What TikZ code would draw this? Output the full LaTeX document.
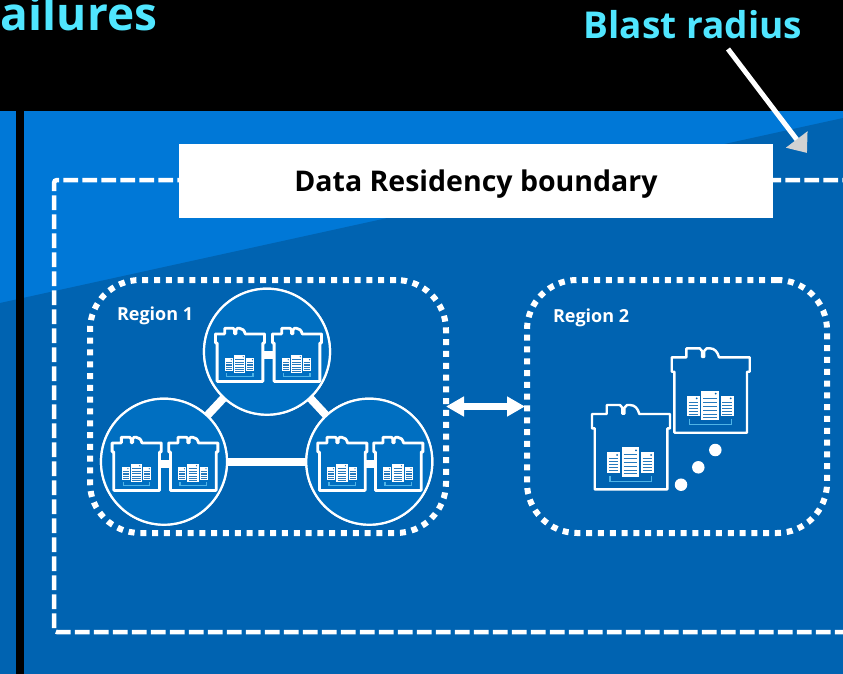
\documentclass[tikz,border=0pt]{standalone}
\usepackage{fontspec}
\setmainfont{Open Sans}
\usetikzlibrary{arrows.meta}
\definecolor{bgdark}{HTML}{0063B1}
\definecolor{bglight}{HTML}{0078D7}
\definecolor{sitefill}{HTML}{006FC1}
\definecolor{titlecyan}{HTML}{50E6FF}
\definecolor{headgray}{HTML}{D2D2D2}
\definecolor{rackline}{HTML}{4FB4E6}
\begin{document}
\begin{tikzpicture}
[x=1pt,y=-1pt,
every node/.style={inner sep=0pt,outer sep=0pt,align=center},
titletext/.style={text=titlecyan,font=\bfseries\fontsize{37}{40}\selectfont},
boundarybox/.style={draw=white,line width=4.5pt,dash pattern=on 14.7pt off 4.3pt,rounded corners=3pt,minimum width=806pt,minimum height=452pt},
labelbox/.style={fill=white,text=black,font=\bfseries\fontsize{28.5}{32}\selectfont,text height=25pt,text depth=5pt,minimum width=594pt,minimum height=74pt},
regionbox/.style={draw=white,line width=6pt,dash pattern=on 6pt off 5.8pt,rounded corners=50pt,minimum height=253pt},
regiontext/.style={text=white,font=\bfseries\fontsize{18}{22}\selectfont},
site/.style={circle,draw=white,line width=2.2pt,fill=sitefill,minimum size=126pt},
link/.style={draw=white,line width=8pt},
dot/.style={circle,fill=white,minimum size=12.5pt},
pics/dc/.style={code={
	\draw[white,line join=round] (-36.3,42.7) -- (-36.3,-18.3) -- (-39,-18.3) -- (-39,-32.7) -- (-24.3,-32.7) -- (-24.3,-41.7) -- (-11,-41.7) -- (-8.7,-39) -- (-8.7,-33) -- (-6.5,-33) -- (-6.5,-39) -- (-4,-41.7) -- (-1,-41.7) .. controls (4,-41.7) and (7,-38) .. (8.3,-32.7) -- (39,-32.7) -- (39,-18.3) -- (36.3,-18.3) -- (36.3,42.7) -- cycle;
	\fill[white] (-23.7,5.7) rectangle (-11,26);
	\fill[white] (-9.3,0.7) rectangle (8.3,30);
	\fill[white] (10,5.7) rectangle (23,26);
	\foreach \y in {12,15,18,21,24} {
		\draw[bgdark!85!white,line width=.9pt] (-22,\y) -- (-12.7,\y);
		\draw[bgdark!85!white,line width=.9pt] (11.7,\y) -- (21.3,\y);
	}
	\foreach \y in {8,12,16,20,24,27} {
		\draw[bgdark!85!white,line width=.9pt] (-7.3,\y) -- (6.3,\y);
	}
	\fill[bgdark] (-14,8.3) circle (1pt) (20,8.3) circle (1pt) (5,3.6) circle (1pt);
	\draw[rackline,line width=1.2pt] (-21,29.3) -- (-21,34.7) -- (20.7,34.7) -- (20.7,29.3);
	\coordinate (-w) at (-36.3,0);
	\coordinate (-e) at (36.3,0);
}},
smalldc/.style={scale=.63,line width=2.8pt},
largedc/.style={line width=2.4pt}]

\clip (0,0) rectangle (843,674);
\fill[black] (0,0) rectangle (843,674);
\fill[bglight] (0,111) rectangle (843,674);
\fill[bgdark] (0,303) -- (843,118) -- (843,674) -- (0,674) -- cycle;
\fill[black] (16,111) rectangle (24,674);

\node[titletext,font=\bfseries\fontsize{46}{50}\selectfont,anchor=base west] (failures) at (1,31) {ailures};
\node[titletext,anchor=base] (blast) at (693,39) {Blast radius};

\node[boundarybox] (boundary) at (457,406) {};
\node[labelbox] (residency) at (476,181) {Data Residency boundary};

\coordinate (blaststart) at (728,49);
\coordinate (blastend) at (807,153);
\draw[white,line width=5pt,-{Triangle[length=17pt,width=26pt,color=headgray]}] (blaststart) -- (blastend);

\node[regionbox,minimum width=356pt] (region1) at (268,406.5) {};
\node[regionbox,minimum width=300pt] (region2) at (677,406.5) {};
\node[regiontext,anchor=base west] (region1text) at (117,320) {Region 1};
\node[regiontext,anchor=base west] (region2text) at (553,322) {Region 2};

\draw[white,line width=7pt,shorten >=2pt,{Triangle[length=18pt,width=19pt]}-{Triangle[length=18pt,width=19pt]}] (region1.east) -- (region2.west);

\node[site] (sitetop) at (267,351.7) {};
\node[site] (siteleft) at (164,461.7) {};
\node[site] (siteright) at (369.3,461.7) {};
\draw[link] (sitetop) -- (siteleft);
\draw[link] (sitetop) -- (siteright);
\draw[link] (siteleft) -- (siteright);
\node[site] at (sitetop) {};
\node[site] at (siteleft) {};
\node[site] at (siteright) {};

\pic[smalldc] (dca) at (240,354.5) {dc};
\pic[smalldc] (dcb) at (297,354.5) {dc};
\pic[smalldc] (dcc) at (136.7,463.5) {dc};
\pic[smalldc] (dcd) at (193.3,463.5) {dc};
\pic[smalldc] (dce) at (342.3,463.5) {dc};
\pic[smalldc] (dcf) at (398.3,463.5) {dc};
\draw[link] (dca-e) -- (dcb-w);
\draw[link] (dcc-e) -- (dcd-w);
\draw[link] (dce-e) -- (dcf-w);

\pic[largedc] (dcg) at (631,446.7) {dc};
\pic[largedc] (dch) at (710.7,390) {dc};

\node[dot] (dot1) at (681,484.7) {};
\node[dot] (dot2) at (698.3,467.3) {};
\node[dot] (dot3) at (715.3,450) {};
\end{tikzpicture}
\end{document}
